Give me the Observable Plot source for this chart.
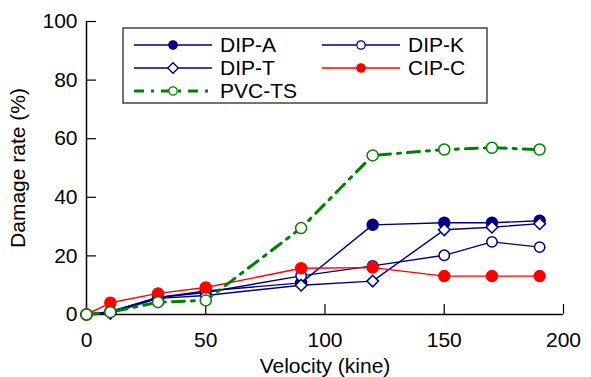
<!DOCTYPE html>
<html>
<head>
<meta charset="utf-8">
<script src="https://cdn.jsdelivr.net/npm/d3@7"></script>
<script src="https://cdn.jsdelivr.net/npm/@observablehq/plot@0.6"></script>
<style>
  body { margin: 0; background: #fff; }
  #chart { position: relative; width: 591px; height: 377px; }
</style>
</head>
<body>
<div id="chart"></div>
<script>
// Damage rate of pipe types versus ground velocity
const velocity = [0, 10, 30, 50, 90, 120, 150, 170, 190];
const dipA  = [0, 1.0, 5.8, 8.0, 10.8, 30.6, 31.3, 31.3, 32.0];
const dipK  = [0, 1.0, 5.8, 7.5, 13.2, 16.6, 20.2, 24.8, 23.0];
const dipT  = [0, 0.4, 5.5, 6.5, 10.0, 11.4, 28.9, 29.8, 31.0];
const cipC  = [0, 4.0, 7.2, 9.2, 15.8, 16.0, 13.1, 13.1, 13.1];
const pvcTS = [0, 0.8, 4.2, 4.8, 29.5, 54.3, 56.3, 56.9, 56.3];

const seriesNames = ["DIP-A", "DIP-K", "DIP-T", "CIP-C", "PVC-TS"];
const seriesValues = [dipA, dipK, dipT, cipC, pvcTS];

const xTicks = [0, 50, 100, 150, 200];
const yTicks = [0, 20, 40, 60, 80, 100];
const xLabel = "Velocity (kine)";
const yLabel = "Damage rate (%)";

const FONT = "'Liberation Sans', Arial, sans-serif";
const FS = 21;

const navy = "#000080", red = "#ff0000", green = "#008000";
const styles = {
  "DIP-A":  {stroke: navy,  fill: navy,   symbol: "circle",   width: 1.4, dash: null, r: 5.5},
  "DIP-K":  {stroke: navy,  fill: "#fff", symbol: "circle",   width: 1.4, dash: null, r: 5.2},
  "DIP-T":  {stroke: navy,  fill: "#fff", symbol: "diamond2", width: 1.4, dash: null, r: 5.2},
  "CIP-C":  {stroke: red,   fill: red,    symbol: "circle",   width: 1.4, dash: null, r: 5.5},
  "PVC-TS": {stroke: green, fill: "#fff", symbol: "circle",   width: 3,   dash: "12,7,3,7", r: 5.5}
};

// tidy rows: one per series and velocity
const rows = seriesNames.flatMap((name, i) =>
  velocity.map((v, j) => ({series: name, velocity: v, rate: seriesValues[i][j]})));

const marks = [];
for (const name of seriesNames) {
  const s = styles[name];
  const data = rows.filter(d => d.series === name);
  marks.push(Plot.line(data, {
    x: "velocity", y: "rate", stroke: s.stroke, strokeWidth: s.width,
    strokeDasharray: s.dash
  }));
  marks.push(Plot.dot(data, {
    x: "velocity", y: "rate", symbol: () => s.symbol, r: s.r,
    stroke: s.stroke, fill: s.fill, strokeWidth: 1.5
  }));
}

const chart = Plot.plot({
  width: 591,
  height: 377,
  marginLeft: 86,
  marginRight: 28,
  marginTop: 21,
  marginBottom: 63,
  style: {fontFamily: FONT, fontSize: FS + "px", color: "#000", background: "#fff"},
  x: {domain: [0, 200]},
  y: {domain: [0, 100]},
  symbol: {type: "identity"},
  marks: [
    Plot.axisX({ticks: xTicks, tickSize: -10, tickPadding: 28, label: null, stroke: "#000", strokeWidth: 1.2, fontSize: FS}),
    Plot.axisY({ticks: yTicks, tickSize: -10, tickPadding: 19, label: null, stroke: "#000", strokeWidth: 1.2, fontSize: FS}),
    Plot.ruleX([0], {stroke: "#000", strokeWidth: 1.5}),
    Plot.ruleY([0], {stroke: "#000", strokeWidth: 1.5}),
    Plot.text([xLabel], {frameAnchor: "bottom", dy: 52, lineAnchor: "middle", textAnchor: "middle", fontSize: FS, text: d => d}),
    Plot.text([yLabel], {frameAnchor: "left", dx: -68, rotate: -90, lineAnchor: "middle", textAnchor: "middle", fontSize: FS, text: d => d}),
    ...marks
  ]
});

document.getElementById("chart").appendChild(chart);

// Legend box drawn inside the plot's SVG
const svg = d3.select(chart);
const lg = svg.append("g").attr("font-family", FONT).attr("font-size", FS).attr("text-anchor", "start");
lg.append("rect").attr("x", 123).attr("y", 28).attr("width", 364).attr("height", 75)
  .attr("fill", "#fff").attr("stroke", "#444").attr("stroke-width", 1.5);
const legendSlots = [
  {name: "DIP-A", col: 0, row: 0},
  {name: "DIP-K", col: 1, row: 0},
  {name: "DIP-T", col: 0, row: 1},
  {name: "CIP-C", col: 1, row: 1},
  {name: "PVC-TS", col: 0, row: 2}
];
const colX = [134, 322], rowY = [45, 68, 91];
for (const slot of legendSlots) {
  const s = styles[slot.name];
  const x0 = colX[slot.col], y = rowY[slot.row];
  const g = lg.append("g");
  g.append("line").attr("x1", x0).attr("x2", x0 + 78).attr("y1", y).attr("y2", y)
    .attr("stroke", s.stroke).attr("stroke-width", s.width)
    .attr("stroke-dasharray", s.dash ? "10,7,3,7" : null);
  const sym = s.symbol === "diamond2" ? d3.symbolDiamond2 : d3.symbolCircle;
  const size = s.symbol === "diamond2" ? 70 : 55;
  g.append("path").attr("d", d3.symbol(sym, size)()).attr("transform", `translate(${x0 + 39},${y})`)
    .attr("fill", s.fill).attr("stroke", s.stroke).attr("stroke-width", 1.3);
  g.append("text").attr("x", x0 + 86).attr("y", y + 7).attr("text-anchor", "start").text(slot.name);
}
</script>
</body>
</html>
